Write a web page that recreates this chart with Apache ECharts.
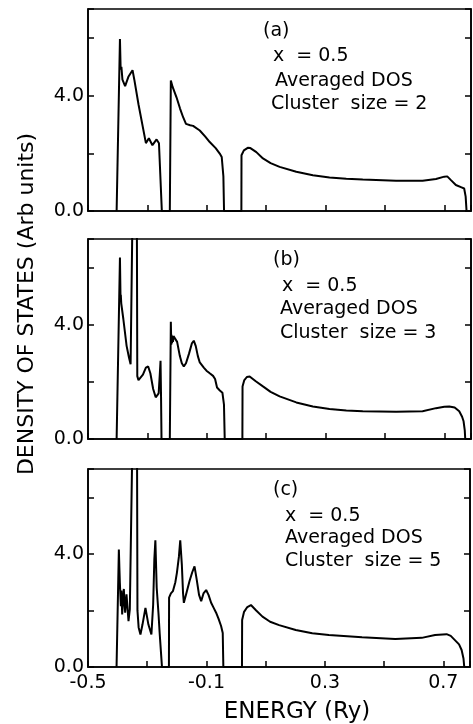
<!DOCTYPE html>
<html>
<head>
<meta charset="utf-8">
<script src="https://cdn.jsdelivr.net/npm/echarts@6/dist/echarts.min.js"></script>
<style>
html,body{margin:0;padding:0;background:#fff;}
#chart{width:473px;height:724px;}
</style>
</head>
<body>
<div id="chart"></div>
<script>
// Energy (Ry) and DOS values
var energyA = [-0.4036,-0.3924,-0.3900,-0.3875,-0.3840,-0.3750,-0.3640,-0.3500,-0.3440,-0.3300,-0.3050,-0.2950,-0.2830,-0.2690,-0.2610,-0.2560,-0.2513,
  -0.2244,-0.2210,-0.2150,-0.2019,-0.1900,-0.1796,-0.1700,-0.1662,-0.1560,-0.1460,-0.1235,-0.1050,-0.0900,-0.0700,-0.0563,-0.0496,-0.0440,-0.0418,
  0.0166,0.0170,0.0250,0.0380,0.0470,0.0670,0.0893,0.1150,0.1454,0.2015,0.2573,0.3134,0.3700,0.4254,0.5376,0.6270,0.6720,0.7000,0.7100,0.7225,0.7390,0.7580,0.7670,0.7720,0.7750];
var dosA = [0,5.96,4.9,5.0,4.55,4.33,4.65,4.88,4.55,3.7,2.35,2.52,2.28,2.48,2.35,2.3,0,
  0,4.52,4.3,3.94,3.55,3.25,3.02,2.97,2.97,2.95,2.79,2.58,2.39,2.18,1.99,1.87,1.2,0,
  0,1.93,2.1,2.19,2.18,2.04,1.82,1.66,1.53,1.36,1.24,1.16,1.12,1.09,1.05,1.05,1.11,1.19,1.2,1.07,0.9,0.82,0.78,0.5,0];

var energyB = [-0.4036,-0.3924,-0.3905,-0.3895,-0.3880,-0.3810,-0.3700,-0.3620,-0.3565,-0.3500,-0.3355,-0.3340,-0.3300,-0.3240,-0.3150,-0.3050,-0.2973,-0.2900,-0.2805,-0.2720,-0.2670,-0.2620,-0.2580,-0.2557,-0.2540,-0.2524,
  -0.2244,-0.2210,-0.2195,-0.2185,-0.2170,-0.2155,-0.2140,-0.2120,-0.2080,-0.1998,-0.1908,-0.1840,-0.1773,-0.1700,-0.1600,-0.1500,-0.1437,-0.1370,-0.1300,-0.1235,-0.1100,-0.1010,-0.0900,-0.0788,-0.0720,-0.0654,-0.0560,-0.0473,-0.0420,-0.0395,
  0.0200,0.0205,0.0260,0.0350,0.0445,0.0650,0.0893,0.1150,0.1454,0.2015,0.2573,0.3134,0.3700,0.4254,0.5376,0.6270,0.6720,0.7000,0.7168,0.7350,0.7504,0.7600,0.7650,0.7690,0.7706];
var dosB = [0,6.35,4.95,5.05,4.75,4.2,3.26,2.85,2.62,8,8,2.2,2.06,2.04,2.25,2.5,2.54,2.3,1.75,1.46,1.42,1.6,2.3,2.74,1.5,0,
  0,4.1,3.3,3.65,3.35,3.6,3.4,3.6,3.55,3.4,2.91,2.65,2.54,2.65,2.98,3.35,3.44,3.25,2.9,2.68,2.5,2.39,2.3,2.21,2.1,1.8,1.7,1.62,1.2,0,
  0,1.84,2.05,2.17,2.19,2.02,1.84,1.65,1.49,1.28,1.14,1.05,1.0,0.97,0.95,0.97,1.08,1.13,1.14,1.1,0.97,0.78,0.62,0.3,0];

var energyC = [-0.4036,-0.3958,-0.3940,-0.3924,-0.3890,-0.3870,-0.3846,-0.3790,-0.3746,-0.3700,-0.3632,-0.3588,-0.3500,-0.3345,-0.3330,-0.3290,-0.3229,-0.3160,-0.3060,-0.2960,-0.2859,-0.2800,-0.2760,-0.2725,-0.2680,-0.2620,-0.2580,-0.2502,
  -0.2267,-0.2262,-0.2200,-0.2133,-0.2050,-0.1998,-0.1930,-0.1885,-0.1830,-0.1790,-0.1763,-0.1680,-0.1571,-0.1480,-0.1403,-0.1330,-0.1250,-0.1178,-0.1100,-0.1010,-0.0930,-0.0842,-0.0760,-0.0674,-0.0590,-0.0506,-0.0450,-0.0429,
  0.0200,0.0205,0.0270,0.0380,0.0502,0.0680,0.0893,0.1150,0.1454,0.2015,0.2573,0.3134,0.4254,0.5376,0.6270,0.6720,0.7110,0.7250,0.7390,0.7530,0.7617,0.7680,0.7706];
var dosC = [0,4.15,3.5,2.98,2.15,2.7,1.86,2.76,1.92,2.57,1.62,2.04,8,8,2.0,1.4,1.15,1.5,2.09,1.5,1.15,2.2,3.8,4.48,2.8,1.9,1.2,0,
  0,2.45,2.6,2.68,3.0,3.33,3.9,4.48,3.6,2.6,2.27,2.6,3.04,3.35,3.56,3.1,2.55,2.33,2.6,2.72,2.55,2.27,2.1,1.92,1.7,1.45,1.2,0,
  0,1.66,1.95,2.12,2.19,2.0,1.78,1.6,1.48,1.31,1.19,1.13,1.05,0.99,1.03,1.13,1.16,1.1,0.95,0.8,0.6,0.3,0];

var xTickLabels = ['-0.5','-0.1','0.3','0.7'];
var yTickLabels = ['0.0','4.0'];
var panelLabels = [
  ['(a)','x  = 0.5','Averaged DOS','Cluster  size = 2'],
  ['(b)','x  = 0.5','Averaged DOS','Cluster  size = 3'],
  ['(c)','x  = 0.5','Averaged DOS','Cluster  size = 5']
];
var xTitle = 'ENERGY (Ry)';
var yTitle = 'DENSITY OF STATES (Arb units)';

function pairs(xs, ys){ var out=[]; for(var i=0;i<xs.length;i++) out.push([xs[i],ys[i]]); return out; }

var FONT = 'DejaVu Sans';
var grids = [
  {left:88, top:9, width:383, height:202},
  {left:88, top:239, width:383, height:200},
  {left:88, top:469, width:383, height:198}
];
grids.forEach(function(g){ g.show=true; g.borderColor='#000'; g.borderWidth=1.6; g.backgroundColor='transparent'; });

var xAxes=[], yAxes=[], series=[];
var datasets=[pairs(energyA,dosA), pairs(energyB,dosB), pairs(energyC,dosC)];
for (var i=0;i<3;i++){
  xAxes.push({
    type:'value', gridIndex:i, min:-0.5, max:0.79, interval:0.2,
    axisLine:{show:true, onZero:false, lineStyle:{color:'#000', width:1.6}},
    axisTick:{show:true, inside:true, length:6, lineStyle:{color:'#000', width:1.5}},
    splitLine:{show:false},
    axisLabel:{show:i===2, margin:7, color:'#000', fontFamily:FONT, fontSize:19,
      formatter:function(v){ var s=(Math.round(v*10)/10).toFixed(1); return xTickLabels.indexOf(s)>=0 ? s : ''; }}
  });
  yAxes.push({
    type:'value', gridIndex:i, min:0, max:7, interval:2, position:'left',
    axisLine:{show:true, onZero:false, lineStyle:{color:'#000', width:1.6}},
    axisTick:{show:true, inside:true, length:6, lineStyle:{color:'#000', width:1.5}},
    splitLine:{show:false},
    axisLabel:{show:true, margin:4, color:'#000', fontFamily:FONT, fontSize:19,
      formatter:function(v){ var s=v.toFixed(1); return yTickLabels.indexOf(s)>=0 ? s : ''; }}
  });
  yAxes.push({
    type:'value', gridIndex:i, min:0, max:7, interval:2, position:'right',
    axisLine:{show:true, onZero:false, lineStyle:{color:'#000', width:1.6}},
    axisTick:{show:true, inside:true, length:6, lineStyle:{color:'#000', width:1.5}},
    splitLine:{show:false}, axisLabel:{show:false}
  });
  series.push({
    type:'line', xAxisIndex:i, yAxisIndex:i*2, data:datasets[i],
    showSymbol:false, symbol:'none', clip:true, smooth:false,
    lineStyle:{color:'#000', width:2}, animation:false
  });
}

var textPos = [
  [[263,31],[273,56],[275,81.5],[271,104.5]],
  [[273,260],[282,286.5],[280,309.5],[280,333.5]],
  [[273,490],[285,516],[285,538.5],[285,561.5]]
];
var graphics = [];
for (var p=0;p<3;p++){
  for (var k=0;k<4;k++){
    graphics.push({type:'text', x:textPos[p][k][0], y:textPos[p][k][1], silent:true,
      style:{text:panelLabels[p][k], font:'19px "'+FONT+'"', fill:'#000', align:'left', verticalAlign:'middle'}});
  }
}
graphics.push({type:'text', x:27, y:304, rotation:Math.PI/2, silent:true,
  style:{text:yTitle, font:'22px "'+FONT+'"', fill:'#000', align:'center', verticalAlign:'middle'}});
graphics.push({type:'text', x:297, y:712, silent:true,
  style:{text:xTitle, font:'23px "'+FONT+'"', fill:'#000', align:'center', verticalAlign:'middle'}});

var chart = echarts.init(document.getElementById('chart'), null, {renderer:'canvas'});
chart.setOption({
  animation:false,
  backgroundColor:'#fff',
  grid:grids, xAxis:xAxes, yAxis:yAxes, series:series, graphic:graphics
});
</script>
</body>
</html>
